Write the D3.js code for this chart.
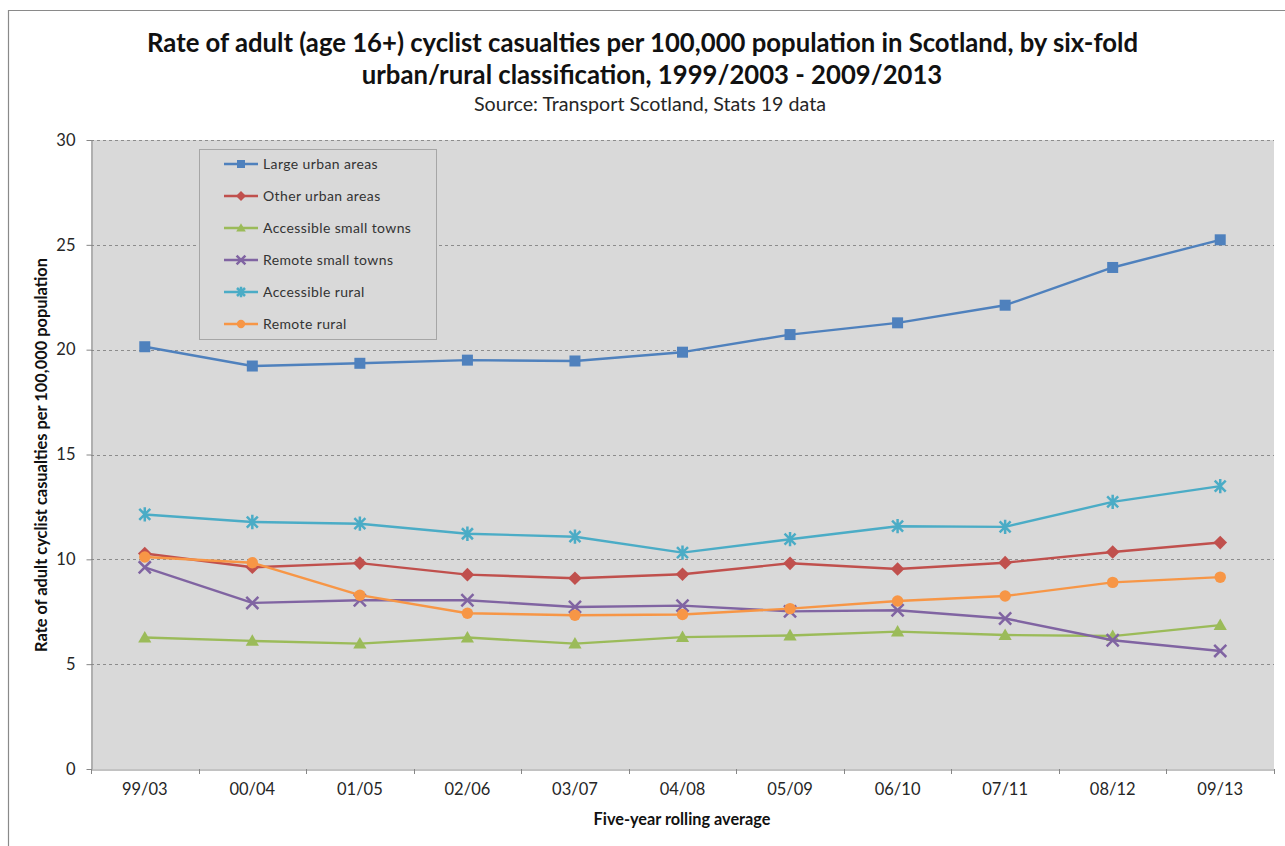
<!DOCTYPE html>
<html>
<head>
<meta charset="utf-8">
<script src="https://cdn.jsdelivr.net/npm/d3@7/dist/d3.min.js"></script>
<style>
  html, body { margin: 0; padding: 0; background: #ffffff; }
  svg { display: block; }
  text { font-family: Lato, "Open Sans", sans-serif; }
</style>
</head>
<body>
<svg id="chart" width="1285" height="846"></svg>
<script>
// ---------- data ----------
const categories = ["99/03","00/04","01/05","02/06","03/07","04/08","05/09","06/10","07/11","08/12","09/13"];
const seriesNames = ["Large urban areas","Other urban areas","Accessible small towns","Remote small towns","Accessible rural","Remote rural"];
const largeUrban       = [20.14, 19.22, 19.35, 19.50, 19.46, 19.88, 20.72, 21.28, 22.12, 23.92, 25.24];
const otherUrban       = [10.28, 9.62, 9.82, 9.27, 9.10, 9.29, 9.81, 9.54, 9.84, 10.35, 10.80];
const accSmallTowns    = [6.27, 6.11, 5.98, 6.27, 5.98, 6.29, 6.37, 6.55, 6.39, 6.34, 6.86];
const remoteSmallTowns = [9.62, 7.92, 8.05, 8.05, 7.73, 7.79, 7.52, 7.57, 7.18, 6.14, 5.63];
const accRural         = [12.14, 11.78, 11.70, 11.22, 11.08, 10.32, 10.96, 11.58, 11.55, 12.74, 13.49];
const remoteRural      = [10.11, 9.84, 8.29, 7.43, 7.33, 7.37, 7.65, 8.01, 8.25, 8.90, 9.15];
const yTicks = [0, 5, 10, 15, 20, 25, 30];
const titleLines = ["Rate of adult (age 16+) cyclist casualties per 100,000 population in Scotland, by six-fold",
                    "urban/rural classification, 1999/2003 - 2009/2013"];
const subtitle = "Source: Transport Scotland, Stats 19 data";
const yTitle = "Rate of adult cyclist casualties per 100,000 population";
const xTitle = "Five-year rolling average";

// ---------- styles ----------
const colors  = ["#4F81BD", "#C0504D", "#9BBB59", "#8064A2", "#4BACC6", "#F79646"];
const markers = ["square", "diamond", "triangle", "x", "star", "circle"];
const seriesValues = [largeUrban, otherUrban, accSmallTowns, remoteSmallTowns, accRural, remoteRural];

const svg = d3.select("#chart");
const plot = { left: 91, right: 1274, top: 140, bottom: 769 };

// chart area border (Excel chart frame)
svg.append("path")
  .attr("d", `M8.5,846 L8.5,10.5 L1285,10.5`)
  .attr("fill", "none").attr("stroke", "#8a8a8a").attr("stroke-width", 1.2);

// scales
const x = d3.scaleBand().domain(categories).range([plot.left, plot.right]).padding(0);
const cx = d => x(d) + x.bandwidth() / 2;
const y = d3.scaleLinear().domain([0, 30]).range([plot.bottom, plot.top]);

// plot background
svg.append("rect")
  .attr("x", plot.left).attr("y", plot.top)
  .attr("width", plot.right - plot.left).attr("height", plot.bottom - plot.top)
  .attr("fill", "#d9d9d9");

// gridlines
svg.append("g").selectAll("line")
  .data(yTicks.filter(v => v > 0))
  .join("line")
  .attr("x1", plot.left).attr("x2", plot.right)
  .attr("y1", d => Math.round(y(d)) + 0.5).attr("y2", d => Math.round(y(d)) + 0.5)
  .attr("stroke", "#8c8c8c").attr("stroke-width", 1).attr("stroke-dasharray", "3,3");

// y axis
const yAxis = svg.append("g")
  .attr("transform", `translate(${plot.left + 0.5},0)`)
  .call(d3.axisLeft(y).tickValues(yTicks).tickSize(5).tickSizeOuter(0).tickPadding(11));
yAxis.select(".domain").attr("stroke", "#868686");
yAxis.selectAll(".tick line").attr("stroke", "#868686");
yAxis.selectAll(".tick text").attr("font-size", 16.5).attr("fill", "#262626")
  .style("font-family", "Lato, 'Open Sans', sans-serif");

// x axis (labels at centers, ticks at band boundaries)
const xAxis = svg.append("g")
  .attr("transform", `translate(0,${plot.bottom + 0.5})`)
  .call(d3.axisBottom(x).tickSize(0).tickSizeOuter(0).tickPadding(14));
xAxis.select(".domain").attr("stroke", "#868686");
xAxis.selectAll(".tick text").attr("font-size", 16.5).attr("fill", "#262626")
  .style("font-family", "Lato, 'Open Sans', sans-serif");
const boundaries = categories.map(d => x(d)).concat([x.range()[1]]);
svg.append("g").selectAll("line")
  .data(boundaries)
  .join("line")
  .attr("x1", d => Math.round(d) + 0.5).attr("x2", d => Math.round(d) + 0.5)
  .attr("y1", plot.bottom).attr("y2", plot.bottom + 5)
  .attr("stroke", "#868686");

// marker drawing
function drawMarker(g, type, color, s) {
  if (type === "square") {
    g.append("rect").attr("x", -s / 2).attr("y", -s / 2).attr("width", s).attr("height", s).attr("fill", color);
  } else if (type === "diamond") {
    const r = s * 0.62;
    g.append("path").attr("d", `M0,${-r}L${r},0L0,${r}L${-r},0Z`).attr("fill", color);
  } else if (type === "triangle") {
    const r = s * 0.6;
    g.append("path").attr("d", `M0,${-r}L${r},${r * 0.75}L${-r},${r * 0.75}Z`).attr("fill", color);
  } else if (type === "x") {
    const r = s * 0.55;
    g.append("path").attr("d", `M${-r},${-r}L${r},${r}M${-r},${r}L${r},${-r}`)
      .attr("stroke", color).attr("stroke-width", 2.5).attr("fill", "none");
  } else if (type === "star") {
    const r = s * 0.5;
    g.append("path").attr("d", `M${-r},${-r}L${r},${r}M${-r},${r}L${r},${-r}M0,${-r * 1.3}L0,${r * 1.3}`)
      .attr("stroke", color).attr("stroke-width", 2.5).attr("fill", "none");
  } else if (type === "circle") {
    g.append("circle").attr("r", s * 0.52).attr("fill", color);
  }
}

// series
const line = d3.line().x((d, i) => cx(categories[i])).y(d => y(d));
seriesValues.forEach((vals, si) => {
  const g = svg.append("g");
  g.append("path").datum(vals).attr("d", line)
    .attr("fill", "none").attr("stroke", colors[si]).attr("stroke-width", 2.4)
    .attr("stroke-linejoin", "round");
  vals.forEach((v, i) => {
    const mg = g.append("g").attr("transform", `translate(${cx(categories[i])},${y(v)})`);
    drawMarker(mg, markers[si], colors[si], 11);
  });
});

// text fitting helper
function fit(sel, target) {
  const w = sel.node().getComputedTextLength();
  const fs = parseFloat(sel.attr("font-size"));
  sel.attr("font-size", (fs * target / w).toFixed(2));
}

// legend
const legend = svg.append("g");
legend.append("rect")
  .attr("x", 199.5).attr("y", 149.5).attr("width", 237).attr("height", 190)
  .attr("fill", "#d9d9d9").attr("stroke", "#a6a6a6").attr("stroke-width", 1);
const legendTexts = [];
seriesNames.forEach((name, i) => {
  const ly = 164 + i * 32;
  legend.append("line").attr("x1", 224).attr("x2", 258).attr("y1", ly).attr("y2", ly)
    .attr("stroke", colors[i]).attr("stroke-width", 2.4);
  const mg = legend.append("g").attr("transform", `translate(241,${ly})`);
  drawMarker(mg, markers[i], colors[i], 8);
  legendTexts.push(legend.append("text").attr("x", 263).attr("y", ly + 5)
    .attr("font-size", 13).attr("letter-spacing", 0.4).attr("fill", "#333333").text(name));
});
fit(legendTexts[2], 149);
legendTexts.forEach(t => t.attr("font-size", legendTexts[2].attr("font-size")));

// titles
const t1 = svg.append("text").attr("x", 642.5).attr("y", 52).attr("text-anchor", "middle")
  .attr("font-size", 23).attr("font-weight", "bold").attr("fill", "#111").text(titleLines[0]);
fit(t1, 991);
const t2 = svg.append("text").attr("x", 652).attr("y", 84).attr("text-anchor", "middle")
  .attr("font-size", 23).attr("font-weight", "bold").attr("fill", "#111").text(titleLines[1]);
t2.attr("font-size", t1.attr("font-size"));
const st = svg.append("text").attr("x", 650).attr("y", 111).attr("text-anchor", "middle")
  .attr("font-size", 16).attr("fill", "#262626").text(subtitle);
fit(st, 352);

const yt = svg.append("text")
  .attr("transform", "translate(47,455) rotate(-90)")
  .attr("text-anchor", "middle").attr("font-size", 14).attr("font-weight", "bold").attr("fill", "#111")
  .text(yTitle);
fit(yt, 394);
const xt = svg.append("text").attr("x", 682).attr("y", 825).attr("text-anchor", "middle")
  .attr("font-size", 14).attr("font-weight", "bold").attr("fill", "#111").text(xTitle);
fit(xt, 177);
</script>
</body>
</html>
